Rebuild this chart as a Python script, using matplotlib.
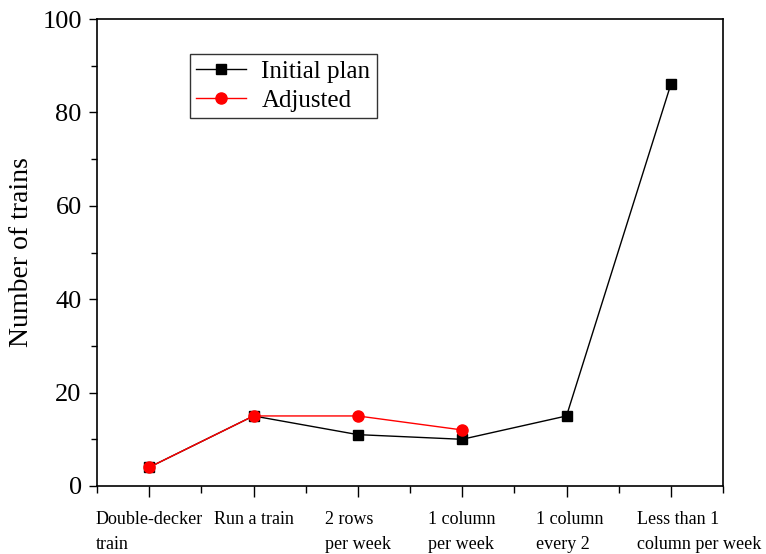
import numpy as np
import matplotlib.pyplot as plt
import matplotlib.transforms as mtransforms

plt.rcParams['font.family'] = ['Liberation Serif', 'DejaVu Serif']

categorias = ['Double-decker\ntrain', 'Run a train', '2 rows\nper week',
              '1 column\nper week', '1 column\nevery 2', 'Less than 1\ncolumn per week']
plan_inicial = [4, 15, 11, 10, 15, 86]
ajustado = [4, 15, 15, 12]

x = np.arange(len(categorias))

fig = plt.figure(figsize=(7.66, 5.54), dpi=100)
ax = fig.add_axes([97/766, 1 - 486/554, (723-97)/766, (486-19)/554])

ax.plot(x, plan_inicial, color='black', lw=1, marker='s', ms=7, label='Initial plan')
ax.plot(x[:len(ajustado)], ajustado, color='red', lw=1, marker='o', ms=8, label='Adjusted')

ax.set_xlim(-0.5, 5.5)
ax.set_ylim(0, 100)
ax.set_xticks(x)
ax.set_xticks(np.arange(-0.5, 5.6, 1), minor=True)
ax.set_xticklabels(categorias, fontsize=13, multialignment='left', va='top', linespacing=1.6)
ax.set_yticks(np.arange(0, 101, 20))
ax.set_yticks(np.arange(10, 100, 20), minor=True)
ax.tick_params(axis='y', labelsize=19, direction='out', length=6, width=1, pad=5)
ax.tick_params(axis='y', which='minor', length=4, width=1)
ax.tick_params(axis='x', which='major', direction='out', length=8, width=1, pad=10)
ax.tick_params(axis='x', which='minor', direction='out', length=5, width=1)
for s in ax.spines.values():
    s.set_linewidth(1.2)

# la ultima etiqueta esta desplazada a la derecha en el original
desplaza = {4: 3, 5: 28}
for i, lab in enumerate(ax.get_xticklabels()):
    if i in desplaza:
        lab.set_transform(lab.get_transform() +
                          mtransforms.ScaledTranslation(desplaza[i] / 100, 0, fig.dpi_scale_trans))

ax.set_ylabel('Number of trains', fontsize=20, labelpad=6)

leg = ax.legend(loc='upper left', bbox_to_anchor=(0.1486, 0.925), fontsize=18,
                frameon=True, fancybox=False, edgecolor='black', handlelength=2.0,
                borderpad=0.25, labelspacing=0.25, handletextpad=0.6, borderaxespad=0)
leg.get_frame().set_linewidth(1)

fig.savefig('out.png', dpi=100)
